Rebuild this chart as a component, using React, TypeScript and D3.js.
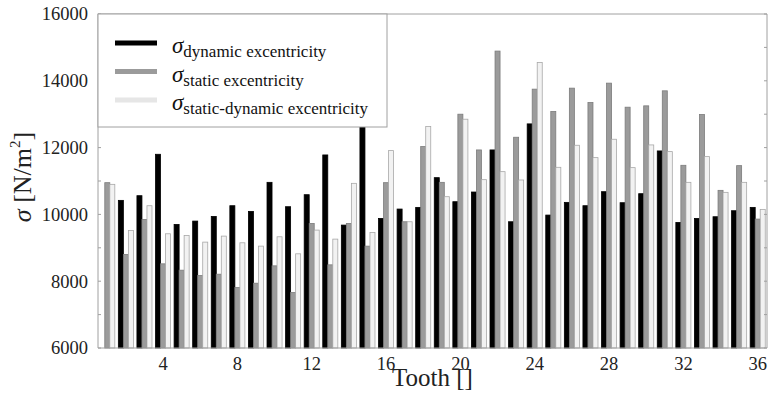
import * as d3 from 'd3';

const W = 771;
const H = 399;

const teeth = [1, 2, 3, 4, 5, 6, 7, 8, 9, 10, 11, 12, 13, 14, 15, 16, 17, 18, 19, 20, 21, 22, 23, 24, 25, 26, 27, 28, 29, 30, 31, 32, 33, 34, 35, 36];
const dynamicEcc = [null, 10420, 10560, 11800, 9700, 9800, 9940, 10260, 10090, 10960, 10230, 10590, 11780, 9680, 12750, 9880, 10160, 10210, 11100, 10380, 10670, 11930, 9780, 12710, 9980, 10360, 10260, 10680, 10350, 10620, 11900, 9760, 9880, 9930, 10110, 10210];
const staticEcc = [10950, 8800, 9850, 8520, 8330, 8170, 8210, 7810, 7940, 8460, 7660, 9730, 8490, 9730, 9050, 10950, 9780, 12030, 10960, 13000, 11930, 14890, 12310, 13750, 13080, 13780, 13350, 13930, 13210, 13250, 13700, 11470, 12990, 10720, 11460, 9860];
const staticDynamicEcc = [10900, 9520, 10260, 9420, 9370, 9170, 9350, 9150, 9050, 9330, 8820, 9530, 9260, 10930, 9460, 11910, 9780, 12630, 10530, 12850, 11040, 11280, 11030, 14550, 11410, 12070, 11700, 12250, 11400, 12080, 11880, 10960, 11730, 10660, 10960, 10150];
const xTicks = [4, 8, 12, 16, 20, 24, 28, 32, 36];
const yTicks = [6000, 8000, 10000, 12000, 14000, 16000];
const yMinor = [6000, 7000, 8000, 9000, 10000, 11000, 12000, 13000, 14000, 15000, 16000];

const series = [
  { key: 'dynamic excentricity', values: dynamicEcc, fill: '#000000', stroke: '#000000', line: '#000000' },
  { key: 'static excentricity', values: staticEcc, fill: '#9b9b9b', stroke: '#7c7c7c', line: '#9b9b9b' },
  { key: 'static-dynamic excentricity', values: staticDynamicEcc, fill: '#f2f2f2', stroke: '#a8a8a8', line: '#e6e6e6' },
];

const FONT = "'Liberation Serif', serif";
const AXIS = '#a0a0a0';
const TXT = { fontFamily: FONT };

export default function App() {
  const m = { left: 98, right: 767, top: 14, bottom: 348 };
  const x = d3.scaleLinear().domain([0.5, 36.5]).range([m.left, m.right]);
  const y = d3.scaleLinear().domain([6000, 16000]).range([m.bottom, m.top]);
  const step = 0.27;
  const bw = x(step) - x(0);

  return (
    <div style={{ position: 'fixed', left: 0, top: 0, width: W, height: H, background: '#fff' }}>
      <svg width={W} height={H} style={{ display: 'block' }}>
        <rect width={W} height={H} fill="#fff" />
        {series.map((s, k) =>
          s.values.map((v, i) => {
            if (v == null) return null;
            const cx = x(teeth[i] + (k - 1) * step);
            return (
              <rect
                key={`${k}-${i}`}
                x={cx - bw / 2}
                y={y(v)}
                width={bw}
                height={y(6000) - y(v)}
                fill={s.fill}
                stroke={s.stroke}
                strokeWidth={0.8}
              />
            );
          })
        )}
        {/* frame */}
        <line x1={m.left} x2={m.right} y1={m.top} y2={m.top} stroke={AXIS} />
        <line x1={m.left} x2={m.right} y1={m.bottom} y2={m.bottom} stroke={AXIS} />
        <line x1={m.left} x2={m.left} y1={m.top} y2={m.bottom} stroke={AXIS} />
        <line x1={m.right} x2={m.right} y1={m.top} y2={m.bottom} stroke={AXIS} />
        {yMinor.map((t) => (
          <g key={t}>
            <line x1={m.left} x2={m.left + 3} y1={y(t)} y2={y(t)} stroke={AXIS} />
            <line x1={m.right} x2={m.right - 3} y1={y(t)} y2={y(t)} stroke={AXIS} />
          </g>
        ))}
        {yTicks.map((t) => (
          <text key={t} x={88} y={y(t) + 6.3} textAnchor="end" fontSize={18.5} fill="#222" style={TXT}>
            {t}
          </text>
        ))}
        {xTicks.map((t) => (
          <text key={t} x={x(t)} y={370} textAnchor="middle" fontSize={18.5} fill="#222" style={TXT}>
            {t}
          </text>
        ))}
        <text x={x(18.5)} y={386} textAnchor="middle" fontSize={25} fill="#222" style={TXT}>
          Tooth []
        </text>
        <text transform="translate(31,177) rotate(-90)" textAnchor="middle" fontSize={26} fill="#222" style={TXT}>
          <tspan fontStyle="italic">σ</tspan> [N/m<tspan fontSize={15} dy={-11}>2</tspan>
          <tspan dy={11}>]</tspan>
        </text>
        {/* legend */}
        <rect x={m.left} y={m.top} width={289} height={113} fill="#fff" stroke={AXIS} />
        {series.map((s, k) => (
          <g key={s.key} transform={`translate(0,${43 + k * 28.5})`}>
            <line x1={115} x2={157} y1={0} y2={0} stroke={s.line} strokeWidth={5} />
            <text x={172} y={10} fontSize={23} fill="#111" style={TXT}>
              <tspan fontStyle="italic">σ</tspan>
              <tspan fontSize={17} dy={4}>{s.key}</tspan>
            </text>
          </g>
        ))}
      </svg>
    </div>
  );
}
